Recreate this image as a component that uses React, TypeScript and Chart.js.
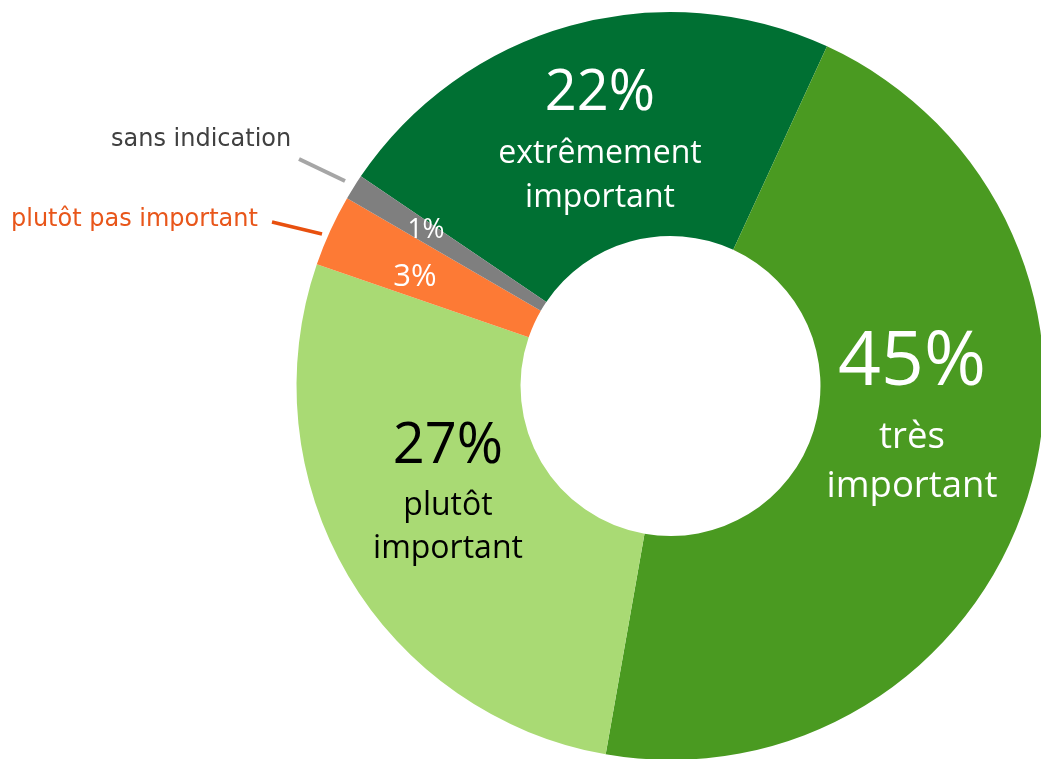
import React, { useEffect, useRef } from "react";
import { Chart, registerables } from "chart.js";

Chart.register(...registerables);

const categories = [
  "extrêmement important",
  "très important",
  "plutôt important",
  "plutôt pas important",
  "sans indication",
];
const values = [22.4, 45.9, 27.5, 3.1, 1.1];
const percentLabels = ["22%", "45%", "27%", "3%", "1%"];
const colors = ["#007033", "#4A9A21", "#A9DA74", "#FD7A35", "#7F7F7F"];

const W = 1041;
const H = 759;

type TextItem = { text: string; x: number; y: number; size: number; color: string; font: string; align?: CanvasTextAlign };

const INNER = "'Open Sans', sans-serif";
const SIDE = "'DejaVu Sans', sans-serif";

const labelItems: TextItem[] = [
  { text: percentLabels[0], x: 600, y: 110, size: 56, color: "#ffffff", font: INNER },
  { text: "extrêmement", x: 600, y: 163, size: 32, color: "#ffffff", font: INNER },
  { text: "important", x: 600, y: 207, size: 32, color: "#ffffff", font: INNER },
  { text: percentLabels[1], x: 912, y: 385, size: 75, color: "#ffffff", font: INNER },
  { text: "très", x: 912, y: 448, size: 36.5, color: "#ffffff", font: INNER },
  { text: "important", x: 912, y: 497, size: 36.5, color: "#ffffff", font: INNER },
  { text: percentLabels[2], x: 448, y: 463, size: 56, color: "#000000", font: INNER },
  { text: "plutôt", x: 448, y: 515, size: 32, color: "#000000", font: INNER },
  { text: "important", x: 448, y: 558, size: 32, color: "#000000", font: INNER },
  { text: percentLabels[3], x: 415, y: 286, size: 31, color: "#ffffff", font: INNER },
  { text: percentLabels[4], x: 426, y: 238, size: 26.5, color: "#ffffff", font: INNER },
  { text: categories[4], x: 111, y: 146, size: 24, color: "#404040", font: SIDE, align: "left" },
  { text: categories[3], x: 11, y: 226, size: 24, color: "#E8561A", font: SIDE, align: "left" },
];

const labelPlugin = {
  id: "labels",
  afterDraw(chart: any) {
    const ctx: CanvasRenderingContext2D = chart.ctx;
    ctx.save();
    ctx.lineCap = "butt";
    ctx.strokeStyle = "#A6A6A6";
    ctx.lineWidth = 4;
    ctx.beginPath();
    ctx.moveTo(299, 159);
    ctx.lineTo(345, 181);
    ctx.stroke();
    ctx.strokeStyle = "#E8500F";
    ctx.lineWidth = 3.5;
    ctx.beginPath();
    ctx.moveTo(272, 222);
    ctx.lineTo(322, 234);
    ctx.stroke();
    ctx.textBaseline = "alphabetic";
    for (const t of labelItems) {
      ctx.font = `${t.size}px ${t.font}`;
      ctx.fillStyle = t.color;
      ctx.textAlign = t.align || "center";
      ctx.fillText(t.text, t.x, t.y);
    }
    ctx.restore();
  },
};

export default function App() {
  const ref = useRef<HTMLCanvasElement | null>(null);
  useEffect(() => {
    if (!ref.current) return;
    const chart = new Chart(ref.current, {
      type: "doughnut",
      data: {
        labels: categories,
        datasets: [
          {
            data: values,
            backgroundColor: colors,
            borderWidth: 0,
          },
        ],
      },
      options: {
        responsive: false,
        animation: false,
        devicePixelRatio: 1,
        rotation: -55.9,
        cutout: "40.1%",
        layout: { padding: { left: 296.5, top: 12, right: 15.5, bottom: 20 } },
        plugins: { legend: { display: false }, tooltip: { enabled: false } },
        events: [],
      },
      plugins: [labelPlugin],
    });
    return () => chart.destroy();
  }, []);
  return (
    <div style={{ position: "absolute", left: 0, top: 0, width: W, height: H, overflow: "hidden", background: "#fff" }}>
      <canvas ref={ref} width={1060} height={780} style={{ width: 1060, height: 780, display: "block" }} />
    </div>
  );
}
